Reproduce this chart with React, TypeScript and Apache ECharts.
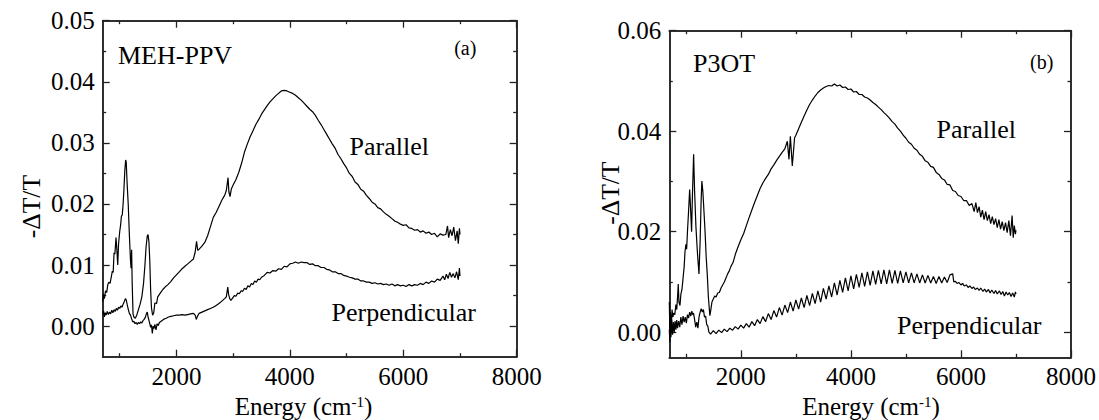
import React, { useEffect, useRef } from 'react';
import * as echarts from 'echarts';

// ---- axes ----
const xMin = 700;
const xMax = 8000;
const xMajorTicks = [2000, 4000, 6000, 8000];
const xMinorTicks = [1000, 3000, 5000, 7000];
const mehYMin = -0.005;
const mehYMax = 0.05;
const mehYTicks = [0, 0.01, 0.02, 0.03, 0.04, 0.05];
const mehYMinor = [0.005, 0.015, 0.025, 0.035, 0.045];
const p3otYMin = -0.005;
const p3otYMax = 0.06;
const p3otYTicks = [0, 0.02, 0.04, 0.06];
const p3otYMinor = [0.01, 0.03, 0.05];

// ---- (a) MEH-PPV ----
const mehParallel = [
  [700, 0.0040], [715, 0.0052], [730, 0.0045], [750, 0.0058], [770, 0.0055], [790, 0.0068], [810, 0.0072], [830, 0.0070],
  [850, 0.0080], [870, 0.0090], [885, 0.0088], [900, 0.0120], [915, 0.0118], [935, 0.0145], [950, 0.0125], [965, 0.0100],
  [980, 0.0135], [1000, 0.0155], [1015, 0.0165], [1030, 0.0180], [1045, 0.0182], [1060, 0.0200], [1075, 0.0225], [1090, 0.0255],
  [1105, 0.0272], [1115, 0.0268], [1130, 0.0235], [1150, 0.0200], [1170, 0.0150], [1190, 0.0108], [1200, 0.0095], [1210, 0.0125],
  [1220, 0.0070], [1235, 0.0020], [1250, 0.0015], [1275, 0.0013], [1300, 0.0018], [1330, 0.0027], [1360, 0.0036], [1390, 0.0048],
  [1420, 0.0070], [1445, 0.0100], [1465, 0.0130], [1485, 0.0147], [1500, 0.0150], [1515, 0.0138], [1530, 0.0108], [1545, 0.0060],
  [1560, 0.0030], [1580, 0.0018], [1600, 0.0022], [1620, 0.0038], [1650, 0.0037], [1670, 0.0048], [1700, 0.0052], [1730, 0.0056],
  [1760, 0.0060], [1800, 0.0064], [1850, 0.0068], [1900, 0.0073], [1950, 0.0079], [2000, 0.0084], [2050, 0.0089], [2100, 0.0094],
  [2150, 0.0098], [2200, 0.0102], [2250, 0.0106], [2300, 0.0110], [2330, 0.0121], [2355, 0.0139], [2375, 0.0124], [2400, 0.0126],
  [2450, 0.0131], [2500, 0.0137], [2550, 0.0148], [2600, 0.0163], [2650, 0.0178], [2700, 0.0186], [2750, 0.0196], [2800, 0.0206],
  [2850, 0.0214], [2880, 0.0222], [2910, 0.0243], [2925, 0.0220], [2945, 0.0212], [2970, 0.0225], [3000, 0.0231], [3050, 0.0240],
  [3100, 0.0252], [3150, 0.0267], [3200, 0.0285], [3250, 0.0298], [3300, 0.0310], [3350, 0.0320], [3400, 0.0330], [3450, 0.0338],
  [3500, 0.0347], [3550, 0.0354], [3600, 0.0361], [3650, 0.0367], [3700, 0.0372], [3750, 0.0377], [3800, 0.0381], [3850, 0.0385],
  [3900, 0.0386], [3950, 0.0385], [4000, 0.0383], [4050, 0.0381], [4100, 0.0378], [4150, 0.0374], [4200, 0.0370], [4250, 0.0365],
  [4300, 0.0360], [4350, 0.0355], [4400, 0.0351], [4450, 0.0345], [4500, 0.0337], [4550, 0.0330], [4600, 0.0322], [4650, 0.0314],
  [4700, 0.0306], [4750, 0.0298], [4800, 0.0291], [4850, 0.0281], [4900, 0.0274], [4950, 0.0266], [5000, 0.0259], [5050, 0.0250],
  [5100, 0.0245], [5150, 0.0236], [5200, 0.0232], [5250, 0.0224], [5300, 0.0221], [5350, 0.0214], [5400, 0.0209], [5450, 0.0203],
  [5500, 0.0200], [5550, 0.0194], [5600, 0.0192], [5650, 0.0187], [5700, 0.0183], [5750, 0.0180], [5800, 0.0176], [5850, 0.0172],
  [5900, 0.0170], [5950, 0.0167], [6000, 0.0165], [6050, 0.0166], [6100, 0.0161], [6150, 0.0160], [6200, 0.0157], [6250, 0.0158],
  [6300, 0.0154], [6350, 0.0156], [6400, 0.0152], [6450, 0.0154], [6500, 0.0150], [6550, 0.0152], [6600, 0.0146], [6650, 0.0151],
  [6700, 0.0149], [6750, 0.0150], [6780, 0.0164], [6800, 0.0145], [6830, 0.0158], [6860, 0.0148], [6890, 0.0162], [6920, 0.0140],
  [6950, 0.0156], [6970, 0.0135], [6990, 0.0160], [7000, 0.0150],
];

const mehPerpendicular = [
  [700, 0.0020], [715, 0.0025], [730, 0.0015], [745, 0.0022], [760, 0.0018], [780, 0.0024], [800, 0.0019], [820, 0.0023],
  [840, 0.0020], [860, 0.0026], [880, 0.0022], [900, 0.0027], [920, 0.0024], [940, 0.0029], [960, 0.0026], [980, 0.0031],
  [1000, 0.0029], [1020, 0.0033], [1040, 0.0031], [1060, 0.0036], [1080, 0.0040], [1100, 0.0045], [1115, 0.0043], [1130, 0.0036],
  [1150, 0.0028], [1170, 0.0021], [1190, 0.0018], [1210, 0.0012], [1230, 0.0007], [1250, 0.0008], [1270, 0.0004], [1290, 0.0006],
  [1310, 0.0003], [1330, 0.0006], [1350, 0.0004], [1370, 0.0007], [1390, 0.0005], [1410, 0.0009], [1430, 0.0011], [1450, 0.0014],
  [1470, 0.0020], [1485, 0.0023], [1500, 0.0015], [1515, 0.0010], [1530, 0.0004], [1545, -0.0002], [1560, 0.0002], [1575, -0.0012],
  [1590, 0.0000], [1605, -0.0004], [1620, 0.0003], [1640, -0.0006], [1660, 0.0004], [1680, 0.0001], [1700, 0.0006], [1730, 0.0008],
  [1760, 0.0010], [1790, 0.0012], [1820, 0.0013], [1860, 0.0015], [1900, 0.0016], [1950, 0.0017], [2000, 0.0018], [2050, 0.0018],
  [2100, 0.0019], [2150, 0.0018], [2200, 0.0019], [2250, 0.0020], [2300, 0.0021], [2330, 0.0018], [2350, 0.0011], [2370, 0.0016],
  [2400, 0.0021], [2450, 0.0023], [2500, 0.0025], [2550, 0.0027], [2600, 0.0029], [2650, 0.0031], [2700, 0.0034], [2750, 0.0037],
  [2800, 0.0041], [2850, 0.0045], [2880, 0.0048], [2905, 0.0064], [2920, 0.0052], [2940, 0.0045], [2960, 0.0042], [2990, 0.0046],
  [3020, 0.0050], [3050, 0.0049], [3080, 0.0054], [3110, 0.0053], [3140, 0.0058], [3170, 0.0057], [3200, 0.0062], [3230, 0.0060],
  [3260, 0.0066], [3290, 0.0064], [3320, 0.0070], [3350, 0.0068], [3380, 0.0074], [3410, 0.0072], [3440, 0.0077], [3470, 0.0076],
  [3500, 0.0080], [3550, 0.0083], [3600, 0.0088], [3650, 0.0087], [3700, 0.0091], [3750, 0.0090], [3800, 0.0094], [3850, 0.0093],
  [3900, 0.0098], [3950, 0.0097], [4000, 0.0102], [4050, 0.0103], [4100, 0.0105], [4150, 0.0103], [4200, 0.0105], [4250, 0.0104],
  [4300, 0.0104], [4350, 0.0101], [4400, 0.0102], [4450, 0.0099], [4500, 0.0099], [4550, 0.0096], [4600, 0.0096], [4650, 0.0093],
  [4700, 0.0092], [4750, 0.0089], [4800, 0.0089], [4850, 0.0086], [4900, 0.0086], [4950, 0.0083], [5000, 0.0082], [5050, 0.0080],
  [5100, 0.0079], [5150, 0.0077], [5200, 0.0077], [5250, 0.0074], [5300, 0.0074], [5350, 0.0072], [5400, 0.0072], [5450, 0.0070],
  [5500, 0.0071], [5550, 0.0069], [5600, 0.0070], [5650, 0.0068], [5700, 0.0069], [5750, 0.0067], [5800, 0.0069], [5850, 0.0066],
  [5900, 0.0068], [5950, 0.0066], [6000, 0.0067], [6050, 0.0065], [6100, 0.0068], [6150, 0.0066], [6200, 0.0068], [6250, 0.0067],
  [6300, 0.0070], [6350, 0.0068], [6400, 0.0072], [6450, 0.0070], [6500, 0.0074], [6550, 0.0072], [6600, 0.0077], [6650, 0.0075],
  [6700, 0.0082], [6730, 0.0076], [6760, 0.0085], [6790, 0.0078], [6820, 0.0088], [6850, 0.0080], [6880, 0.0086], [6910, 0.0079],
  [6940, 0.0089], [6970, 0.0076], [6990, 0.0095], [7000, 0.0082],
];

// ---- (b) P3OT ----
const p3otParallel = [
  [700, 0.0060], [710, 0.0005], [720, 0.0040], [735, 0.0010], [750, 0.0045], [765, 0.0030], [780, 0.0038], [800, 0.0035],
  [820, 0.0055], [835, 0.0045], [850, 0.0070], [863, 0.0096], [875, 0.0060], [894, 0.0053], [910, 0.0075], [930, 0.0085],
  [954, 0.0112], [970, 0.0130], [985, 0.0160], [1002, 0.0175], [1015, 0.0165], [1030, 0.0200], [1050, 0.0240], [1070, 0.0284],
  [1085, 0.0250], [1105, 0.0200], [1120, 0.0270], [1142, 0.0354], [1160, 0.0280], [1184, 0.0210], [1210, 0.0160], [1239, 0.0116],
  [1260, 0.0180], [1278, 0.0260], [1292, 0.0301], [1310, 0.0280], [1330, 0.0240], [1350, 0.0200], [1370, 0.0150], [1390, 0.0115],
  [1410, 0.0070], [1437, 0.0033], [1455, 0.0045], [1475, 0.0060], [1500, 0.0066], [1525, 0.0072], [1550, 0.0070], [1580, 0.0078],
  [1610, 0.0079], [1640, 0.0088], [1670, 0.0094], [1700, 0.0100], [1730, 0.0108], [1760, 0.0116], [1790, 0.0122], [1820, 0.0131],
  [1860, 0.0139], [1900, 0.0155], [1950, 0.0170], [2000, 0.0184], [2050, 0.0196], [2100, 0.0212], [2150, 0.0228], [2200, 0.0243],
  [2250, 0.0258], [2300, 0.0272], [2350, 0.0286], [2400, 0.0297], [2450, 0.0306], [2500, 0.0314], [2550, 0.0325], [2600, 0.0333],
  [2650, 0.0342], [2700, 0.0350], [2750, 0.0358], [2800, 0.0365], [2845, 0.0380], [2875, 0.0344], [2900, 0.0390], [2935, 0.0331],
  [2977, 0.0387], [3000, 0.0392], [3050, 0.0405], [3100, 0.0418], [3150, 0.0430], [3200, 0.0442], [3250, 0.0453], [3300, 0.0462],
  [3350, 0.0470], [3400, 0.0477], [3450, 0.0482], [3500, 0.0486], [3550, 0.0489], [3600, 0.0491], [3650, 0.0490], [3700, 0.0494],
  [3750, 0.0490], [3800, 0.0492], [3850, 0.0487], [3900, 0.0488], [3950, 0.0483], [4000, 0.0484], [4050, 0.0478], [4100, 0.0479],
  [4150, 0.0473], [4200, 0.0473], [4250, 0.0468], [4300, 0.0466], [4350, 0.0462], [4400, 0.0457], [4450, 0.0453], [4500, 0.0448],
  [4550, 0.0443], [4600, 0.0437], [4650, 0.0432], [4700, 0.0426], [4750, 0.0419], [4800, 0.0414], [4850, 0.0406], [4900, 0.0400],
  [4950, 0.0392], [5000, 0.0386], [5050, 0.0378], [5100, 0.0374], [5150, 0.0366], [5200, 0.0362], [5250, 0.0354], [5300, 0.0350],
  [5350, 0.0341], [5400, 0.0338], [5450, 0.0330], [5500, 0.0328], [5550, 0.0318], [5600, 0.0314], [5650, 0.0306], [5700, 0.0303],
  [5750, 0.0294], [5800, 0.0293], [5850, 0.0282], [5900, 0.0280], [5950, 0.0272], [6000, 0.0270], [6050, 0.0262], [6100, 0.0262],
  [6150, 0.0252], [6200, 0.0256], [6240, 0.0240], [6270, 0.0258], [6300, 0.0238], [6330, 0.0250], [6360, 0.0229], [6390, 0.0243],
  [6420, 0.0224], [6450, 0.0240], [6480, 0.0222], [6510, 0.0234], [6540, 0.0216], [6570, 0.0230], [6600, 0.0214], [6630, 0.0226],
  [6660, 0.0208], [6690, 0.0224], [6720, 0.0205], [6750, 0.0220], [6780, 0.0202], [6810, 0.0218], [6840, 0.0198], [6870, 0.0222],
  [6900, 0.0192], [6930, 0.0232], [6950, 0.0188], [6970, 0.0212], [6990, 0.0195], [7000, 0.0203],
];

const p3otPerpendicular = [
  [700, 0.0005], [710, -0.0020], [720, 0.0030], [730, -0.0010], [745, 0.0025], [760, -0.0005], [775, 0.0020], [790, 0.0000],
  [805, 0.0022], [820, 0.0005], [835, 0.0024], [850, 0.0008], [870, 0.0022], [890, 0.0010], [910, 0.0030], [930, 0.0015],
  [950, 0.0032], [970, 0.0020], [990, 0.0030], [1010, 0.0018], [1030, 0.0035], [1050, 0.0028], [1070, 0.0040], [1090, 0.0032],
  [1110, 0.0042], [1125, 0.0035], [1140, 0.0038], [1160, 0.0025], [1180, 0.0010], [1200, 0.0020], [1220, 0.0008], [1240, 0.0030],
  [1260, 0.0040], [1280, 0.0047], [1300, 0.0040], [1320, 0.0045], [1340, 0.0030], [1360, 0.0032], [1380, 0.0015], [1400, 0.0012],
  [1420, 0.0000], [1450, -0.0004], [1500, 0.0003], [1550, -0.0003], [1600, 0.0004], [1650, -0.0001], [1700, 0.0006], [1750, 0.0001],
  [1800, 0.0008], [1850, 0.0004], [1900, 0.0011], [1950, 0.0006], [2000, 0.0014], [2050, 0.0008], [2100, 0.0017], [2150, 0.0010],
  [2200, 0.0021], [2250, 0.0013], [2300, 0.0025], [2350, 0.0017], [2400, 0.0031], [2450, 0.0021], [2500, 0.0037], [2550, 0.0025],
  [2600, 0.0043], [2650, 0.0030], [2700, 0.0049], [2750, 0.0034], [2800, 0.0054], [2850, 0.0039], [2900, 0.0060], [2950, 0.0042],
  [3000, 0.0064], [3050, 0.0046], [3100, 0.0068], [3150, 0.0049], [3200, 0.0073], [3250, 0.0053], [3300, 0.0077], [3350, 0.0057],
  [3400, 0.0082], [3450, 0.0060], [3500, 0.0087], [3550, 0.0066], [3600, 0.0092], [3650, 0.0070], [3700, 0.0098], [3750, 0.0074],
  [3800, 0.0103], [3850, 0.0079], [3900, 0.0108], [3950, 0.0082], [4000, 0.0112], [4050, 0.0086], [4100, 0.0115], [4150, 0.0089],
  [4200, 0.0118], [4250, 0.0091], [4300, 0.0120], [4350, 0.0093], [4400, 0.0122], [4450, 0.0095], [4500, 0.0123], [4550, 0.0096],
  [4600, 0.0124], [4650, 0.0096], [4700, 0.0124], [4750, 0.0097], [4800, 0.0123], [4850, 0.0097], [4900, 0.0122], [4950, 0.0098],
  [5000, 0.0120], [5050, 0.0098], [5100, 0.0118], [5150, 0.0098], [5200, 0.0116], [5250, 0.0098], [5300, 0.0114], [5350, 0.0098],
  [5400, 0.0113], [5450, 0.0098], [5500, 0.0111], [5550, 0.0097], [5600, 0.0111], [5650, 0.0098], [5700, 0.0110], [5750, 0.0099],
  [5800, 0.0114], [5850, 0.0116], [5870, 0.0100], [5900, 0.0101], [5930, 0.0097], [5960, 0.0099], [6000, 0.0094], [6030, 0.0097],
  [6060, 0.0092], [6100, 0.0094], [6130, 0.0089], [6160, 0.0092], [6200, 0.0087], [6230, 0.0090], [6260, 0.0085], [6300, 0.0088],
  [6330, 0.0083], [6360, 0.0088], [6400, 0.0081], [6430, 0.0086], [6460, 0.0080], [6500, 0.0085], [6530, 0.0078], [6560, 0.0084],
  [6600, 0.0077], [6630, 0.0083], [6660, 0.0076], [6700, 0.0082], [6730, 0.0075], [6760, 0.0081], [6790, 0.0072], [6820, 0.0080],
  [6850, 0.0074], [6880, 0.0079], [6910, 0.0071], [6940, 0.0078], [6970, 0.0070], [6990, 0.0080], [7000, 0.0076],
];

const FONT = 'Liberation Serif';
const FRAME = '#222';

function mkAxis(
  gridIndex: number,
  position: string,
  min: number,
  max: number,
  ticks: number[],
  tickLen: number,
  labels: boolean,
  fmt?: (v: number) => string,
  margin = 8
) {
  return {
    type: 'value',
    gridIndex,
    position,
    min,
    max,
    axisLine: { show: true, onZero: false, lineStyle: { color: FRAME, width: 1.5 } },
    axisTick: {
      show: true,
      inside: true,
      length: tickLen,
      customValues: ticks,
      lineStyle: { color: FRAME, width: 1.3 },
    },
    axisLabel: labels
      ? {
          show: true,
          customValues: ticks,
          formatter: fmt,
          fontFamily: FONT,
          fontSize: 25,
          color: '#000',
          margin,
        }
      : { show: false },
    splitLine: { show: false },
    minorTick: { show: false },
  };
}

function xAxesFor(g: number) {
  const fx = (v: number) => String(v);
  return [
    mkAxis(g, 'bottom', xMin, xMax, xMajorTicks, 7, true, fx, 7),
    mkAxis(g, 'bottom', xMin, xMax, xMinorTicks, 3.5, false),
    mkAxis(g, 'top', xMin, xMax, xMajorTicks, 7, false),
    mkAxis(g, 'top', xMin, xMax, xMinorTicks, 3.5, false),
  ];
}

function yAxesFor(g: number, min: number, max: number, major: number[], minor: number[]) {
  const fy = (v: number) => v.toFixed(2);
  return [
    mkAxis(g, 'left', min, max, major, 7, true, fy, 8),
    mkAxis(g, 'left', min, max, minor, 3.5, false),
    mkAxis(g, 'right', min, max, major, 7, false),
    mkAxis(g, 'right', min, max, minor, 3.5, false),
  ];
}

function txt(x: number, y: number, text: string, size: number, align = 'left', rotation = 0) {
  return {
    type: 'text',
    x,
    y,
    rotation,
    style: { text, fontFamily: FONT, fontSize: size, fill: '#000', align, verticalAlign: 'middle' },
  };
}

function energyTitle(x: number, y: number) {
  return {
    type: 'text',
    x,
    y,
    style: {
      text: '{a|Energy (cm}{b|-1}{a|)}',
      align: 'center',
      verticalAlign: 'middle',
      fontFamily: FONT,
      fontSize: 25,
      fill: '#000',
      rich: {
        a: { fontFamily: FONT, fontSize: 25, lineHeight: 24, fill: '#000' },
        b: { fontFamily: FONT, fontSize: 15, lineHeight: 6, verticalAlign: 'top', fill: '#000' },
      },
    },
  };
}

const lineSeries = (data: number[][], axis: number) => ({
  type: 'line',
  data,
  xAxisIndex: axis,
  yAxisIndex: axis,
  showSymbol: false,
  symbol: 'none',
  lineStyle: { color: '#000', width: 1.2 },
  clip: true,
});

export default function App() {
  const ref = useRef<HTMLDivElement>(null);
  useEffect(() => {
    if (!ref.current) return;
    const chart = echarts.init(ref.current, undefined, { renderer: 'svg' });
    chart.setOption({
      animation: false,
      backgroundColor: '#fff',
      textStyle: { fontFamily: FONT },
      grid: [
        { left: 102.7, top: 20.7, width: 414, height: 336 },
        { left: 669.3, top: 30.7, width: 403, height: 326.6 },
      ],
      xAxis: [...xAxesFor(0), ...xAxesFor(1)],
      yAxis: [
        ...yAxesFor(0, mehYMin, mehYMax, mehYTicks, mehYMinor),
        ...yAxesFor(1, p3otYMin, p3otYMax, p3otYTicks, p3otYMinor),
      ],
      series: [
        lineSeries(mehParallel, 0),
        lineSeries(mehPerpendicular, 0),
        lineSeries(p3otParallel, 4),
        lineSeries(p3otPerpendicular, 4),
      ],
      graphic: [
        txt(118, 55, 'MEH-PPV', 26),
        txt(465.3, 48.4, '(a)', 20, 'center'),
        txt(349.6, 146.4, 'Parallel', 26),
        txt(331.5, 312.8, 'Perpendicular', 26),
        txt(31.5, 206.6, '-\u0394T/T', 25.5, 'center', Math.PI / 2),
        energyTitle(303.5, 406.6),
        txt(693, 63.2, 'P3OT', 26),
        txt(1041.7, 61.7, '(b)', 20, 'center'),
        txt(936.5, 129.3, 'Parallel', 26),
        txt(897, 325.6, 'Perpendicular', 26),
        txt(610.4, 193.2, '-\u0394T/T', 25.5, 'center', Math.PI / 2),
        energyTitle(871, 406.6),
      ],
    });
    return () => chart.dispose();
  }, []);
  return (
    <div
      ref={ref}
      style={{ position: 'fixed', left: 0, top: 0, width: 1099, height: 420, background: '#fff' }}
    />
  );
}
